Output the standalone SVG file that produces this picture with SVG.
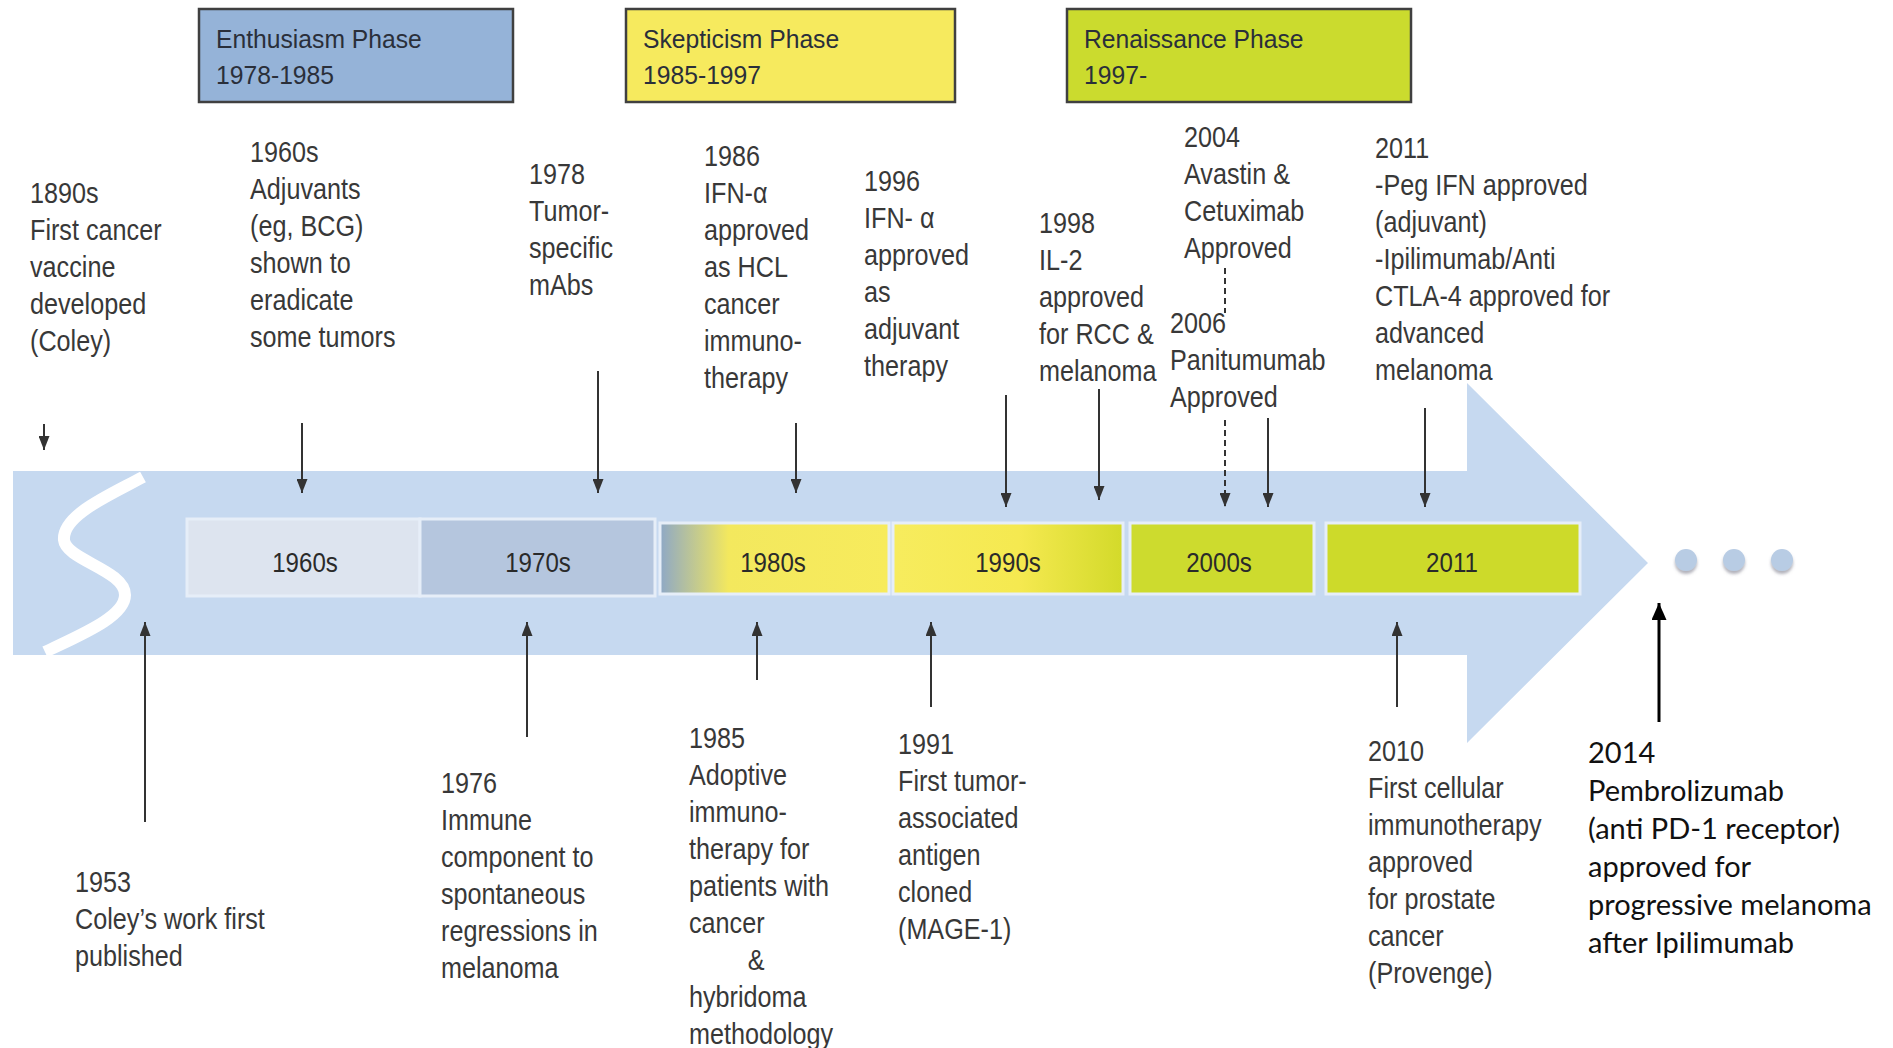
<svg xmlns="http://www.w3.org/2000/svg" width="1893" height="1048" viewBox="0 0 1893 1048">
<defs>
<style>
.t{font-family:"Liberation Sans",Arial,sans-serif;font-size:30px;fill:#383838}
.d{font-family:"Liberation Sans",Arial,sans-serif;font-size:28px;fill:#2a2a2a;text-anchor:middle}
.p{font-family:"Liberation Sans",Arial,sans-serif;font-size:26px;fill:#2a2f3a}
.c{font-family:Lato,"Open Sans",sans-serif;font-size:29px;fill:#111}
.phase{stroke:#404040;stroke-width:2.5}
.dec{stroke:#e6eef8;stroke-width:3}
.ln{stroke:#333;stroke-width:2;fill:none}
</style>
<marker id="ah" viewBox="0 0 14 11" refX="14" refY="5.5" markerWidth="14" markerHeight="11" markerUnits="userSpaceOnUse" orient="auto"><path d="M0,0 L14,5.5 L0,11 z" fill="#333"/></marker>
<marker id="ahb" viewBox="0 0 17 15" refX="17" refY="7.5" markerWidth="17" markerHeight="15" markerUnits="userSpaceOnUse" orient="auto"><path d="M0,0 L17,7.5 L0,15 z" fill="#000"/></marker>
<linearGradient id="g80" x1="0" y1="0" x2="1" y2="0"><stop offset="0" stop-color="#8ea8c6"/><stop offset="0.3" stop-color="#f3e85e"/><stop offset="1" stop-color="#f7eb5c"/></linearGradient>
<linearGradient id="g90" x1="0" y1="0" x2="1" y2="0"><stop offset="0" stop-color="#f7ec5e"/><stop offset="0.55" stop-color="#f5e950"/><stop offset="1" stop-color="#d3da2a"/></linearGradient>
<filter id="sh" x="-50%" y="-50%" width="200%" height="200%"><feDropShadow dx="0" dy="3" stdDeviation="1.5" flood-color="#667" flood-opacity="0.5"/></filter>
</defs>
<rect width="1893" height="1048" fill="#fff"/>

<g id="timeline">
<path d="M13,471 H1467 V383 L1648,563 L1467,743 V655 H13 Z" fill="#c6d9f0"/>
<path d="M143,477 C110,495 62,515 64,540 C66,560 125,570 125,595 C125,617 80,635 45,652" stroke="#fff" stroke-width="12" fill="none"/>
</g>

<g id="decades">
<g id="d1960"><rect class="dec" x="187" y="519" width="233" height="77" fill="#dde4ef"/><text class="d" transform="translate(305,572) scale(0.86,1)">1960s</text></g>
<g id="d1970"><rect class="dec" x="420" y="519" width="235" height="77" fill="#b5c6de"/><text class="d" transform="translate(538,572) scale(0.86,1)">1970s</text></g>
<g id="d1980"><rect class="dec" x="660" y="523" width="229" height="71" fill="url(#g80)"/><text class="d" transform="translate(773,572) scale(0.86,1)">1980s</text></g>
<g id="d1990"><rect class="dec" x="893" y="523" width="230" height="71" fill="url(#g90)"/><text class="d" transform="translate(1008,572) scale(0.86,1)">1990s</text></g>
<g id="d2000"><rect class="dec" x="1130" y="523" width="184" height="71" fill="#cddb2e"/><text class="d" transform="translate(1219,572) scale(0.86,1)">2000s</text></g>
<g id="d2011"><rect class="dec" x="1326" y="523" width="254" height="71" fill="#cdda2a"/><text class="d" transform="translate(1452,572) scale(0.86,1)">2011</text></g>
</g>

<g id="phases">
<g id="enthusiasm"><rect class="phase" x="199" y="9" width="314" height="93" fill="#95b3d8"/><text class="p" transform="translate(216,48) scale(0.95,1)"><tspan x="0" y="0">Enthusiasm Phase</tspan><tspan x="0" y="36">1978-1985</tspan></text></g>
<g id="skepticism"><rect class="phase" x="626" y="9" width="329" height="93" fill="#f6ea5e"/><text class="p" transform="translate(643,48) scale(0.95,1)"><tspan x="0" y="0">Skepticism Phase</tspan><tspan x="0" y="36">1985-1997</tspan></text></g>
<g id="renaissance"><rect class="phase" x="1067" y="9" width="344" height="93" fill="#cbdb2e"/><text class="p" transform="translate(1084,48) scale(0.95,1)"><tspan x="0" y="0">Renaissance Phase</tspan><tspan x="0" y="36">1997-</tspan></text></g>
</g>

<g id="connectors">
<line class="ln" x1="44" y1="424" x2="44" y2="450" marker-end="url(#ah)"/>
<line class="ln" x1="302" y1="423" x2="302" y2="493" marker-end="url(#ah)"/>
<line class="ln" x1="598" y1="371" x2="598" y2="493" marker-end="url(#ah)"/>
<line class="ln" x1="796" y1="423" x2="796" y2="493" marker-end="url(#ah)"/>
<line class="ln" x1="1006" y1="395" x2="1006" y2="507" marker-end="url(#ah)"/>
<line class="ln" x1="1099" y1="389" x2="1099" y2="500" marker-end="url(#ah)"/>
<line class="ln" x1="1225" y1="268" x2="1225" y2="313" stroke-dasharray="6,4"/>
<line class="ln" x1="1225" y1="420" x2="1225" y2="507" stroke-dasharray="6,4" marker-end="url(#ah)"/>
<line class="ln" x1="1268" y1="418" x2="1268" y2="507" marker-end="url(#ah)"/>
<line class="ln" x1="1425" y1="408" x2="1425" y2="507" marker-end="url(#ah)"/>
<line class="ln" x1="145" y1="822" x2="145" y2="622" marker-end="url(#ah)"/>
<line class="ln" x1="527" y1="737" x2="527" y2="622" marker-end="url(#ah)"/>
<line class="ln" x1="757" y1="680" x2="757" y2="622" marker-end="url(#ah)"/>
<line class="ln" x1="931" y1="707" x2="931" y2="622" marker-end="url(#ah)"/>
<line class="ln" x1="1397" y1="707" x2="1397" y2="622" marker-end="url(#ah)"/>
<line x1="1659" y1="722" x2="1659" y2="603" stroke="#000" stroke-width="3" marker-end="url(#ahb)"/>
</g>

<g id="dots" fill="#b8cce4" filter="url(#sh)">
<circle cx="1686" cy="560" r="11"/>
<circle cx="1734" cy="560" r="11"/>
<circle cx="1782" cy="560" r="11"/>
</g>

<g id="e1890"><text class="t" transform="translate(30,203) scale(0.84,1)"><tspan x="0" y="0">1890s</tspan><tspan x="0" dy="37">First  cancer</tspan><tspan x="0" dy="37">vaccine</tspan><tspan x="0" dy="37">developed</tspan><tspan x="0" dy="37">(Coley)</tspan></text></g>
<g id="e1960"><text class="t" transform="translate(250,162) scale(0.84,1)"><tspan x="0" y="0">1960s</tspan><tspan x="0" dy="37">Adjuvants</tspan><tspan x="0" dy="37">(eg, BCG)</tspan><tspan x="0" dy="37">shown to</tspan><tspan x="0" dy="37">eradicate</tspan><tspan x="0" dy="37">some tumors</tspan></text></g>
<g id="e1978"><text class="t" transform="translate(529,184) scale(0.84,1)"><tspan x="0" y="0">1978</tspan><tspan x="0" dy="37">Tumor-</tspan><tspan x="0" dy="37">specific</tspan><tspan x="0" dy="37">mAbs</tspan></text></g>
<g id="e1986"><text class="t" transform="translate(704,166) scale(0.84,1)"><tspan x="0" y="0">1986</tspan><tspan x="0" dy="37">IFN-α</tspan><tspan x="0" dy="37">approved</tspan><tspan x="0" dy="37">as HCL</tspan><tspan x="0" dy="37">cancer</tspan><tspan x="0" dy="37">immuno-</tspan><tspan x="0" dy="37">therapy</tspan></text></g>
<g id="e1996"><text class="t" transform="translate(864,191) scale(0.84,1)"><tspan x="0" y="0">1996</tspan><tspan x="0" dy="37">IFN- α</tspan><tspan x="0" dy="37">approved</tspan><tspan x="0" dy="37">as</tspan><tspan x="0" dy="37">adjuvant</tspan><tspan x="0" dy="37">therapy</tspan></text></g>
<g id="e1998"><text class="t" transform="translate(1039,233) scale(0.84,1)"><tspan x="0" y="0">1998</tspan><tspan x="0" dy="37">IL-2</tspan><tspan x="0" dy="37">approved</tspan><tspan x="0" dy="37">for RCC &amp;</tspan><tspan x="0" dy="37">melanoma</tspan></text></g>
<g id="e2004"><text class="t" transform="translate(1184,147) scale(0.84,1)"><tspan x="0" y="0">2004</tspan><tspan x="0" dy="37">Avastin  &amp;</tspan><tspan x="0" dy="37">Cetuximab</tspan><tspan x="0" dy="37">Approved</tspan></text></g>
<g id="e2006"><text class="t" transform="translate(1170,333) scale(0.84,1)"><tspan x="0" y="0">2006</tspan><tspan x="0" dy="37">Panitumumab</tspan><tspan x="0" dy="37">Approved</tspan></text></g>
<g id="e2011"><text class="t" transform="translate(1375,158) scale(0.84,1)"><tspan x="0" y="0">2011</tspan><tspan x="0" dy="37">-Peg IFN approved</tspan><tspan x="0" dy="37">(adjuvant)</tspan><tspan x="0" dy="37">-Ipilimumab/Anti</tspan><tspan x="0" dy="37">CTLA-4 approved for</tspan><tspan x="0" dy="37">advanced</tspan><tspan x="0" dy="37">melanoma</tspan></text></g>

<g id="e1953"><text class="t" transform="translate(75,892) scale(0.84,1)"><tspan x="0" y="0">1953</tspan><tspan x="0" dy="37">Coley’s work first</tspan><tspan x="0" dy="37">published</tspan></text></g>
<g id="e1976"><text class="t" transform="translate(441,793) scale(0.84,1)"><tspan x="0" y="0">1976</tspan><tspan x="0" dy="37">Immune</tspan><tspan x="0" dy="37">component to</tspan><tspan x="0" dy="37">spontaneous</tspan><tspan x="0" dy="37">regressions in</tspan><tspan x="0" dy="37">melanoma</tspan></text></g>
<g id="e1985"><text class="t" transform="translate(689,748) scale(0.84,1)"><tspan x="0" y="0">1985</tspan><tspan x="0" dy="37">Adoptive</tspan><tspan x="0" dy="37">immuno-</tspan><tspan x="0" dy="37">therapy for</tspan><tspan x="0" dy="37">patients with</tspan><tspan x="0" dy="37">cancer</tspan><tspan x="70" dy="37">&amp;</tspan><tspan x="0" dy="37">hybridoma</tspan><tspan x="0" dy="37">methodology</tspan></text></g>
<g id="e1991"><text class="t" transform="translate(898,754) scale(0.84,1)"><tspan x="0" y="0">1991</tspan><tspan x="0" dy="37">First tumor-</tspan><tspan x="0" dy="37">associated</tspan><tspan x="0" dy="37">antigen</tspan><tspan x="0" dy="37">cloned</tspan><tspan x="0" dy="37">(MAGE-1)</tspan></text></g>
<g id="e2010"><text class="t" transform="translate(1368,761) scale(0.84,1)"><tspan x="0" y="0">2010</tspan><tspan x="0" dy="37">First cellular</tspan><tspan x="0" dy="37">immunotherapy</tspan><tspan x="0" dy="37">approved</tspan><tspan x="0" dy="37">for prostate</tspan><tspan x="0" dy="37">cancer</tspan><tspan x="0" dy="37">(Provenge)</tspan></text></g>
<g id="e2014"><text class="c" x="1588" y="763"><tspan x="1588" y="763">2014</tspan><tspan x="1588" dy="38">Pembrolizumab</tspan><tspan x="1588" dy="38">(anti PD-1 receptor)</tspan><tspan x="1588" dy="38">approved for</tspan><tspan x="1588" dy="38">progressive melanoma</tspan><tspan x="1588" dy="38">after Ipilimumab</tspan></text></g>
</svg>
